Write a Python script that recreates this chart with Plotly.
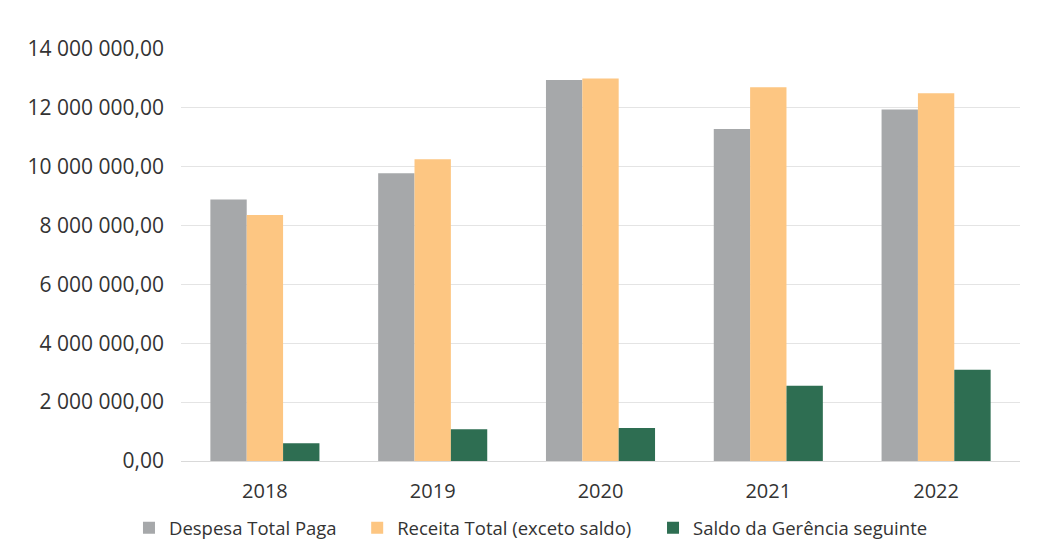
import plotly.graph_objects as go

years = ["2018", "2019", "2020", "2021", "2022"]
despesa = [8890000, 9780000, 12950000, 11280000, 11940000]
receita = [8360000, 10250000, 13000000, 12700000, 12500000]
saldo = [600000, 1080000, 1120000, 2560000, 3100000]

names = ["Despesa Total Paga", "Receita Total (exceto saldo)", "Saldo da Gerência seguinte"]
colors = ["#a6a8aa", "#fdc682", "#2e6e52"]
legend_ids = ["legend", "legend2", "legend3"]
legend_x = [-0.062, 0.21, 0.5626]

fig = go.Figure()
for vals, name, col, lid in zip([despesa, receita, saldo], names, colors, legend_ids):
    fig.add_trace(go.Bar(x=years, y=vals, name=name, marker_color=col,
                         marker_line_width=0, legend=lid))

font = "Open Sans, Liberation Sans, sans-serif"
txt = "#333333"
leg_common = dict(orientation="h", y=-0.163, yanchor="middle", xanchor="left",
                  font=dict(size=18.5, color=txt), itemwidth=30,
                  bgcolor="rgba(0,0,0,0)")
fig.update_layout(
    width=1052, height=560,
    paper_bgcolor="white", plot_bgcolor="white",
    separators=", ",
    barmode="group", bargap=0.35, bargroupgap=0,
    margin=dict(l=173, r=40, t=41, b=107),
    font=dict(family=font, size=18, color=txt),
    xaxis=dict(showgrid=False, showline=True, linecolor="#d9d9d9", linewidth=1,
               ticks="", tickfont=dict(size=20, color=txt), ticklabelstandoff=12),
    yaxis=dict(range=[0, 14000000], dtick=2000000, tickformat=",.2f",
               showgrid=True, gridcolor="#e4e4e4", gridwidth=1,
               zeroline=False, showline=False, ticks="",
               tickfont=dict(size=21, color=txt), ticklabelstandoff=16),
    legend=dict(x=legend_x[0], **leg_common),
    legend2=dict(x=legend_x[1], **leg_common),
    legend3=dict(x=legend_x[2], **leg_common),
    showlegend=True,
)
fig.write_html("out.html")
